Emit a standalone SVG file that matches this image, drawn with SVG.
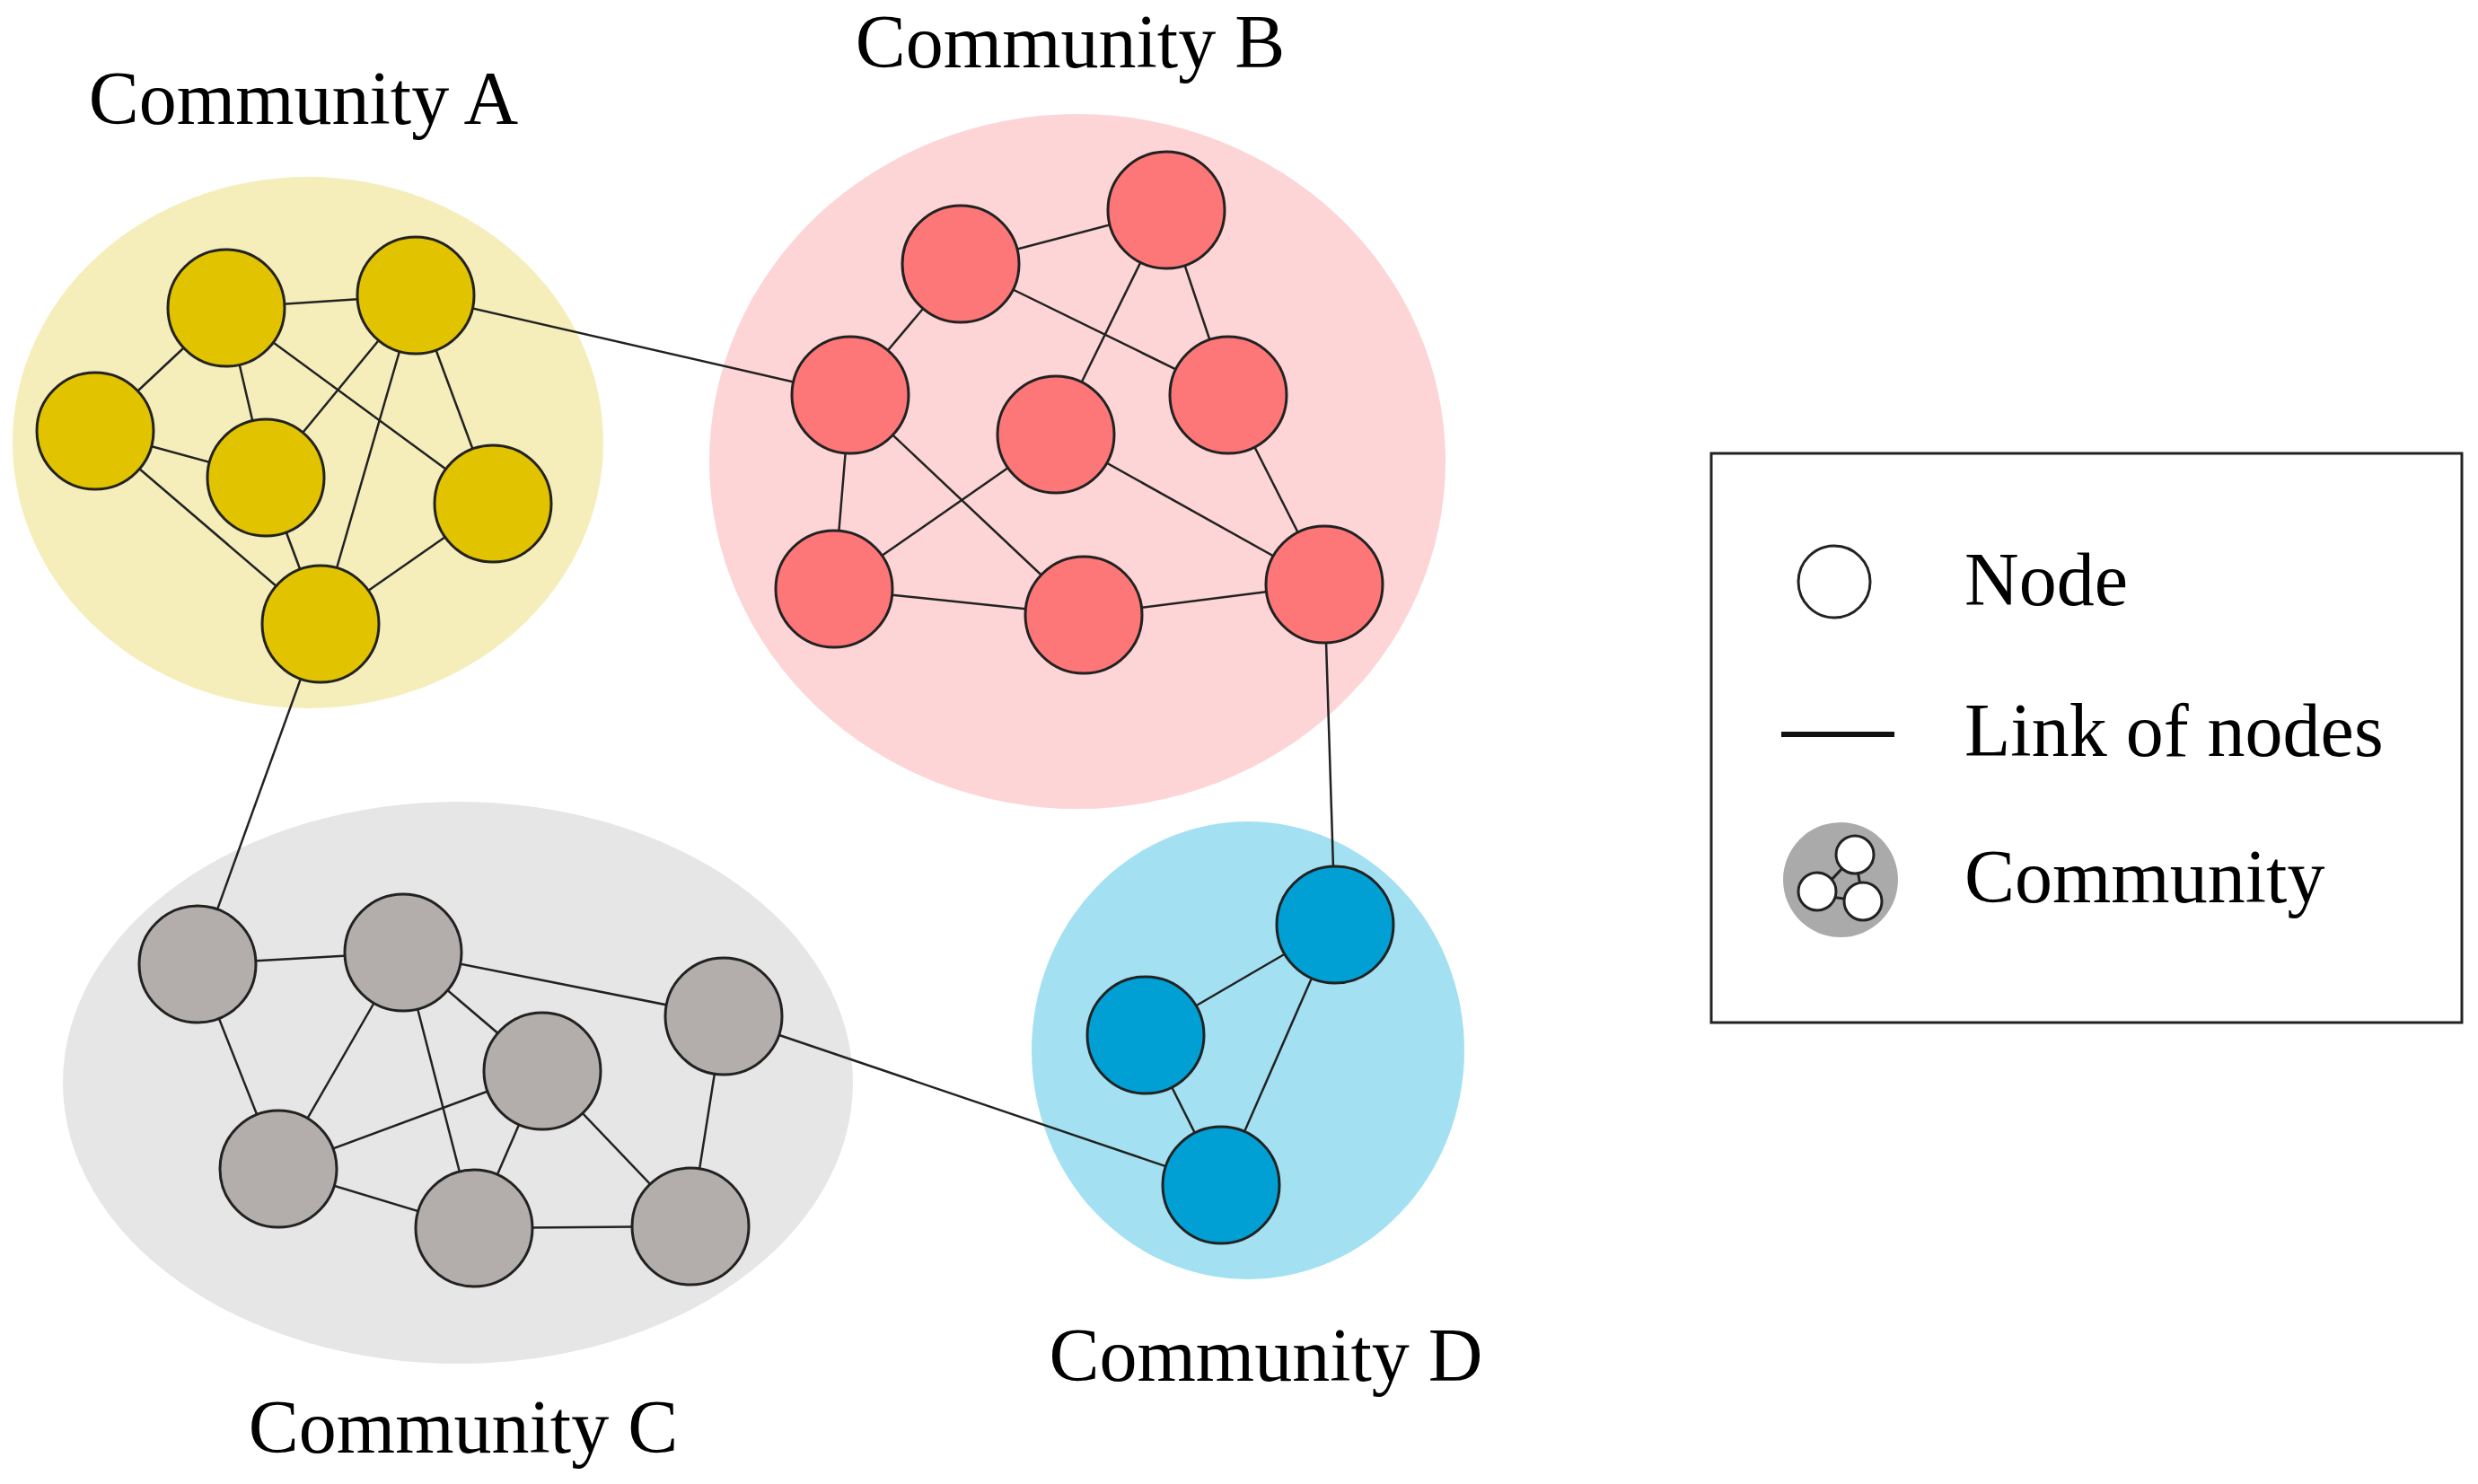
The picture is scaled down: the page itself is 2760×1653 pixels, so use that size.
<svg xmlns="http://www.w3.org/2000/svg" width="2760" height="1653" viewBox="0 0 2760 1653">
<style>
.n{stroke:#222;stroke-width:3}
.a{fill:#e1c300}.b{fill:#fd7779}.c{fill:#b3aeac}.d{fill:#00a0d4}
.e line{stroke:#222;stroke-width:2.5}
text{font-family:"Liberation Serif",serif;font-size:84px;fill:#000}
</style>
<rect width="2760" height="1653" fill="#fff"/>
<g id="communities">
<ellipse cx="343" cy="493" rx="329" ry="296" fill="#f5eebb"/>
<ellipse cx="1200" cy="514" rx="410" ry="387" fill="#fdd5d6"/>
<ellipse cx="510" cy="1206" rx="440" ry="313" fill="#e6e6e6"/>
<ellipse cx="1390" cy="1170" rx="241" ry="255" fill="#a3e1f2"/>
</g>
<g id="connectors" class="e">
<line x1="252" y1="343" x2="463" y2="329"/><line x1="252" y1="343" x2="106" y2="480"/><line x1="252" y1="343" x2="296" y2="532"/><line x1="252" y1="343" x2="549" y2="561"/><line x1="463" y1="329" x2="296" y2="532"/><line x1="463" y1="329" x2="357" y2="695"/><line x1="463" y1="329" x2="549" y2="561"/><line x1="106" y1="480" x2="296" y2="532"/><line x1="106" y1="480" x2="357" y2="695"/><line x1="296" y1="532" x2="357" y2="695"/><line x1="549" y1="561" x2="357" y2="695"/>
<line x1="463" y1="329" x2="947" y2="440"/><line x1="357" y1="695" x2="220" y2="1074"/>
<line x1="1070" y1="294" x2="1299" y2="234"/><line x1="1070" y1="294" x2="1368" y2="440"/><line x1="1070" y1="294" x2="947" y2="440"/><line x1="1299" y1="234" x2="1176" y2="484"/><line x1="1299" y1="234" x2="1368" y2="440"/><line x1="947" y1="440" x2="929" y2="656"/><line x1="947" y1="440" x2="1207" y2="685"/><line x1="1176" y1="484" x2="929" y2="656"/><line x1="1176" y1="484" x2="1475" y2="651"/><line x1="1368" y1="440" x2="1475" y2="651"/><line x1="929" y1="656" x2="1207" y2="685"/><line x1="1207" y1="685" x2="1475" y2="651"/>
<line x1="1475" y1="651" x2="1487" y2="1030"/>
<line x1="220" y1="1074" x2="449" y2="1061"/><line x1="220" y1="1074" x2="310" y2="1302"/><line x1="449" y1="1061" x2="806" y2="1132"/><line x1="449" y1="1061" x2="604" y2="1193"/><line x1="449" y1="1061" x2="310" y2="1302"/><line x1="449" y1="1061" x2="528" y2="1368"/><line x1="604" y1="1193" x2="310" y2="1302"/><line x1="604" y1="1193" x2="528" y2="1368"/><line x1="604" y1="1193" x2="769" y2="1366"/><line x1="806" y1="1132" x2="769" y2="1366"/><line x1="310" y1="1302" x2="528" y2="1368"/><line x1="528" y1="1368" x2="769" y2="1366"/>
<line x1="806" y1="1132" x2="1360" y2="1320"/>
<line x1="1487" y1="1030" x2="1276" y2="1153"/><line x1="1487" y1="1030" x2="1360" y2="1320"/><line x1="1276" y1="1153" x2="1360" y2="1320"/>
</g>
<g id="nodeA"><circle class="n a" cx="252" cy="343" r="65"/><circle class="n a" cx="463" cy="329" r="65"/><circle class="n a" cx="106" cy="480" r="65"/><circle class="n a" cx="296" cy="532" r="65"/><circle class="n a" cx="549" cy="561" r="65"/><circle class="n a" cx="357" cy="695" r="65"/></g>
<g id="nodeB"><circle class="n b" cx="1070" cy="294" r="65"/><circle class="n b" cx="1299" cy="234" r="65"/><circle class="n b" cx="947" cy="440" r="65"/><circle class="n b" cx="1176" cy="484" r="65"/><circle class="n b" cx="1368" cy="440" r="65"/><circle class="n b" cx="929" cy="656" r="65"/><circle class="n b" cx="1207" cy="685" r="65"/><circle class="n b" cx="1475" cy="651" r="65"/></g>
<g id="nodeC"><circle class="n c" cx="220" cy="1074" r="65"/><circle class="n c" cx="449" cy="1061" r="65"/><circle class="n c" cx="806" cy="1132" r="65"/><circle class="n c" cx="604" cy="1193" r="65"/><circle class="n c" cx="310" cy="1302" r="65"/><circle class="n c" cx="528" cy="1368" r="65"/><circle class="n c" cx="769" cy="1366" r="65"/></g>
<g id="nodeD"><circle class="n d" cx="1487" cy="1030" r="65"/><circle class="n d" cx="1276" cy="1153" r="65"/><circle class="n d" cx="1360" cy="1320" r="65"/></g>
<g id="labels">
<text x="338" y="138" text-anchor="middle">Community A</text>
<text x="1192" y="75" text-anchor="middle">Community B</text>
<text x="516" y="1618" text-anchor="middle">Community C</text>
<text x="1410" y="1538" text-anchor="middle">Community D</text>
</g>
<g id="legend">
<rect x="1906" y="505" width="836" height="634" fill="#fff" stroke="#222" stroke-width="3"/>
<circle cx="2043" cy="648" r="40" fill="#fff" stroke="#222" stroke-width="3"/>
<text x="2188" y="674">Node</text>
<line x1="1984" y1="818" x2="2110" y2="818" stroke="#111" stroke-width="6"/>
<text x="2188" y="842">Link of nodes</text>
<circle cx="2050" cy="980" r="64" fill="#aaa"/>
<line x1="2066" y1="952" x2="2024" y2="997" stroke="#222" stroke-width="3"/><line x1="2066" y1="952" x2="2075" y2="1004" stroke="#222" stroke-width="3"/><line x1="2024" y1="997" x2="2075" y2="1004" stroke="#222" stroke-width="3"/>
<circle cx="2066" cy="952" r="21" fill="#fff" stroke="#222" stroke-width="3"/>
<circle cx="2024" cy="993" r="21" fill="#fff" stroke="#222" stroke-width="3"/>
<circle cx="2075" cy="1004" r="21" fill="#fff" stroke="#222" stroke-width="3"/>
<text x="2188" y="1005">Community</text>
</g>
</svg>
